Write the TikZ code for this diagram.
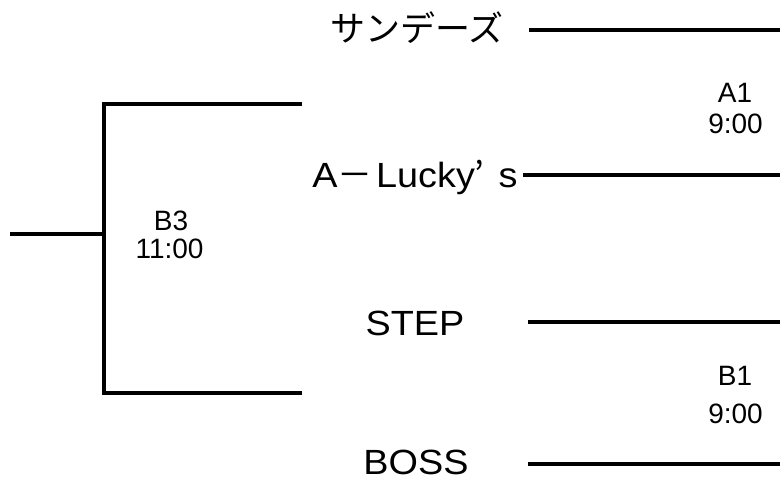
\documentclass[tikz,border=0pt]{standalone}
\usepackage{fontspec}
\setmainfont{Liberation Sans}
\newfontfamily\jp{Noto Sans CJK JP}
\newfontfamily\wide{Liberation Sans}[FakeStretch=1.08]
\tikzset{
  team/.style={anchor=base,inner sep=0pt,text depth=0pt,font=\wide\fontsize{26.25}{30}\selectfont},
  game/.style={anchor=base,inner sep=0pt,font=\fontsize{21}{24}\selectfont},
  bar/.style={line width=3pt}
}
\begin{document}
\begin{tikzpicture}[x=0.75pt,y=-0.75pt]
      \useasboundingbox (0,0) rectangle (780,479);

      \node[team] (sun) at (417,41) {\jp サンデーズ};
      \node[team] (lucky) at (415,187) {A{\jp －}\kern0.1em Lucky{\jp ’}\kern0.4em s};
      \node[team] (step) at (415,335) {STEP};
      \node[team] (boss) at (416,474) {BOSS};

      \node[game] (a1) at (735,102) {A1};
      \node[game] (a1t) at (735.5,133) {9:00};
      \node[game] (b1) at (735,385) {B1};
      \node[game] (b1t) at (735.5,423) {9:00};
      \node[game] (b3) at (171,230) {B3};
      \node[game] (b3t) at (169.5,258) {11:00};

      \coordinate (sunR) at (780,30);
      \coordinate (luckyR) at (780,175);
      \coordinate (stepR) at (780,322);
      \coordinate (bossR) at (780,464);
      \draw[bar] (529,30) -- (sunR);
      \draw[bar] (523,175) -- (luckyR);
      \draw[bar] (528,322) -- (stepR);
      \draw[bar] (528,464) -- (bossR);

      \coordinate (top) at (302,104);
      \coordinate (bottom) at (302,393);
      \coordinate (final) at (10,234);
      \draw[bar] (top) -- (104,104) -- (104,393) -- (bottom);
      \draw[bar] (final) -- (104,234);
    \end{tikzpicture}
\end{document}
